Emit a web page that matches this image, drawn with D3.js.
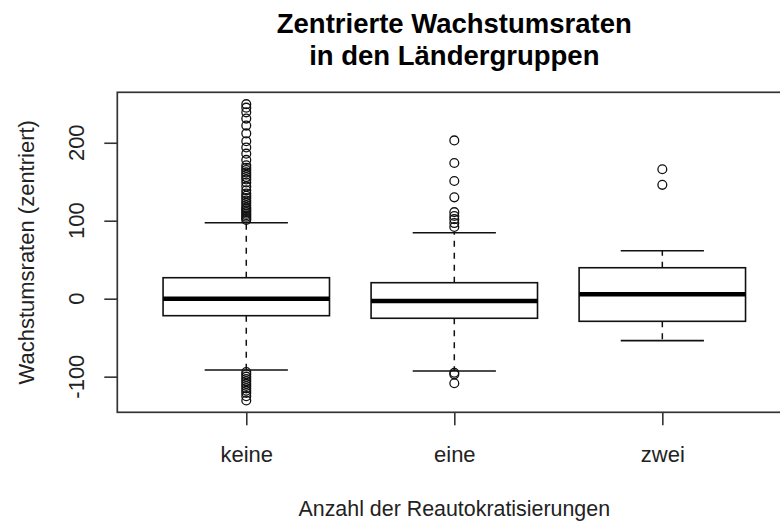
<!DOCTYPE html>
<html>
<head>
<meta charset="utf-8">
<script src="https://cdn.jsdelivr.net/npm/d3@7"></script>
<style>
  html, body { margin: 0; padding: 0; background: #fff; }
  svg { display: block; font-family: "Liberation Sans", Arial, sans-serif; }
</style>
</head>
<body>
<svg id="chart" width="780" height="524"></svg>
<script>
// ---- data ----
const categories = ["keine", "eine", "zwei"];
const q1 = [-21.8, -25.1, -29.0];
const medians = [0.0, -2.9, 5.6];
const q3 = [26.9, 20.5, 39.7];
const whiskerLow = [-91.4, -92.7, -53.8];
const whiskerHigh = [97.4, 84.6, 61.5];
const outliersKeine = [249.5, 245, 239, 231, 222, 212, 202, 194, 186, 178,
  171, 168, 165, 162, 159, 156, 153, 149, 144, 139,
  135, 132, 129, 126, 123, 120, 117, 115, 113, 111, 109, 107, 105, 103, 101,
  -94, -97, -100, -103, -106, -109, -112, -115, -118, -121, -125, -130.5];
const outliersEine = [203, 174, 151, 130, 111, 106, 102, 97, 92, -95, -97, -108.5];
const outliersZwei = [166, 146];
const outliers = [outliersKeine, outliersEine, outliersZwei];
const yTicks = [-100, 0, 100, 200];
const titleLines = ["Zentrierte Wachstumsraten", "in den Ländergruppen"];
const xTitle = "Anzahl der Reautokratisierungen";
const yTitle = "Wachstumsraten (zentriert)";

// ---- layout ----
const plot = { left: 117.3, right: 791.3, top: 92.3, bottom: 412.3 };
const svg = d3.select("#chart");
svg.append("rect").attr("width", 780).attr("height", 524).attr("fill", "#fff");

const allVals = [].concat(whiskerLow, whiskerHigh, ...outliers);
const dMin = d3.min(allVals), dMax = d3.max(allVals);
const ext = (dMax - dMin) * 0.04;
const y = d3.scaleLinear().domain([dMin - ext, dMax + ext]).range([plot.bottom, plot.top]);
const x = d3.scaleLinear().domain([0.38, 3.62]).range([plot.left, plot.right]);

const ink = "#111";
const boxHalf = 0.4, capHalf = 0.2;

const groups = svg.append("g").selectAll("g").data(categories).join("g");

groups.each(function(c, i) {
  const g = d3.select(this);
  const cx = x(i + 1);
  // whiskers (dashed)
  g.append("line").attr("x1", cx).attr("x2", cx)
    .attr("y1", y(q3[i])).attr("y2", y(whiskerHigh[i]))
    .attr("stroke", ink).attr("stroke-width", 1.5).attr("stroke-dasharray", "6,6");
  g.append("line").attr("x1", cx).attr("x2", cx)
    .attr("y1", y(q1[i])).attr("y2", y(whiskerLow[i]))
    .attr("stroke", ink).attr("stroke-width", 1.5).attr("stroke-dasharray", "6,6");
  // caps
  [whiskerHigh[i], whiskerLow[i]].forEach(v => {
    g.append("line").attr("x1", x(i + 1 - capHalf)).attr("x2", x(i + 1 + capHalf))
      .attr("y1", y(v)).attr("y2", y(v))
      .attr("stroke", ink).attr("stroke-width", 1.6);
  });
  // box
  g.append("rect")
    .attr("x", x(i + 1 - boxHalf)).attr("width", x(i + 1 + boxHalf) - x(i + 1 - boxHalf))
    .attr("y", y(q3[i])).attr("height", y(q1[i]) - y(q3[i]))
    .attr("fill", "#fff").attr("stroke", ink).attr("stroke-width", 1.6);
  // median
  g.append("line").attr("x1", x(i + 1 - boxHalf)).attr("x2", x(i + 1 + boxHalf))
    .attr("y1", y(medians[i])).attr("y2", y(medians[i]))
    .attr("stroke", "#000").attr("stroke-width", 4.5);
  // outliers
  g.selectAll("circle").data(outliers[i]).join("circle")
    .attr("cx", cx).attr("cy", d => y(d)).attr("r", 4.4)
    .attr("fill", "none").attr("stroke", ink).attr("stroke-width", 1.3);
});

// frame
svg.append("rect")
  .attr("x", plot.left).attr("y", plot.top)
  .attr("width", plot.right - plot.left).attr("height", plot.bottom - plot.top)
  .attr("fill", "none").attr("stroke", "#333").attr("stroke-width", 1.7);

// y axis
const yAxis = svg.append("g").attr("transform", `translate(${plot.left},0)`)
  .call(d3.axisLeft(y).tickValues(yTicks).tickSize(13).tickFormat(""));
yAxis.select(".domain").remove();
yAxis.selectAll(".tick line").attr("stroke", "#333").attr("stroke-width", 1.6);
svg.append("g").selectAll("text").data(yTicks).join("text")
  .attr("transform", d => `translate(84,${y(d)}) rotate(-90)`)
  .attr("text-anchor", "middle")
  .attr("font-size", 22).attr("fill", "#222")
  .text(d => d);

// x axis
const xAxis = svg.append("g").attr("transform", `translate(0,${plot.bottom})`)
  .call(d3.axisBottom(x).tickValues([1, 2, 3]).tickSize(13).tickFormat((d) => categories[d - 1]));
xAxis.select(".domain").remove();
xAxis.selectAll(".tick line").attr("stroke", "#333").attr("stroke-width", 1.6);
xAxis.selectAll(".tick text")
  .attr("y", 462 - plot.bottom).attr("dy", 0)
  .attr("font-size", 22).attr("fill", "#222")
  .attr("font-family", "Liberation Sans, Arial, sans-serif");

const midX = (plot.left + plot.right) / 2;
const midY = (plot.top + plot.bottom) / 2;

// axis titles
svg.append("text").attr("x", midX).attr("y", 515.5)
  .attr("text-anchor", "middle").attr("font-size", 21.4).attr("fill", "#222")
  .text(xTitle);
svg.append("text")
  .attr("transform", `translate(33.5,${midY}) rotate(-90)`)
  .attr("text-anchor", "middle").attr("font-size", 22).attr("fill", "#222")
  .text(yTitle);

// title
svg.append("g").selectAll("text").data(titleLines).join("text")
  .attr("x", midX).attr("y", (d, i) => 32.8 + i * 31.7)
  .attr("text-anchor", "middle").attr("font-size", 27.5).attr("font-weight", "bold")
  .attr("fill", "#000")
  .text(d => d);
</script>
</body>
</html>
